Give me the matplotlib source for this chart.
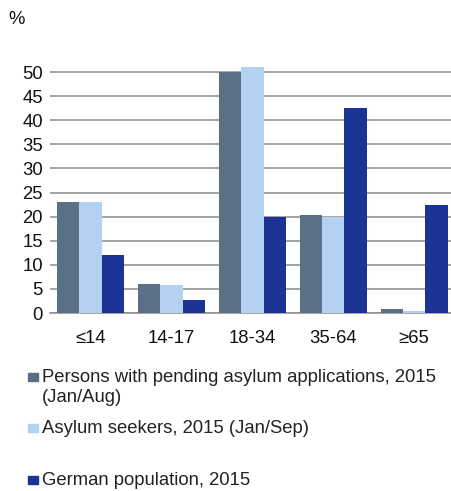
import matplotlib
matplotlib.use("Agg")
import matplotlib.pyplot as plt
import numpy as np
from matplotlib.patches import Rectangle

plt.rcParams["font.family"] = ["Liberation Sans", "DejaVu Sans"]

categories = ["≤14", "14-17", "18-34", "35-64", "≥65"]
pending = [23, 6, 50, 20.3, 0.8]
seekers = [23, 5.8, 51, 20, 0.4]
german = [12, 2.8, 20, 42.5, 22.5]
labels = [
    "Persons with pending asylum applications, 2015\n(Jan/Aug)",
    "Asylum seekers, 2015 (Jan/Sep)",
    "German population, 2015",
]
colors = ["#5A7087", "#B3D1F0", "#1A3395"]

W, H = 452, 491
fs = 13.3
fig = plt.figure(figsize=(W / 100, H / 100), dpi=100)
ax = fig.add_axes([50 / W, (H - 313) / H, 404.6 / W, 250.6 / H])

x = np.arange(len(categories))
bw = 0.277
for i, vals in enumerate([pending, seekers, german]):
    ax.bar(x + (i - 1) * bw, vals, bw, color=colors[i], zorder=3)

ax.set_xlim(-0.5, len(categories) - 0.5)
ax.set_ylim(0, 52)
ax.set_yticks(range(0, 51, 5))
ax.set_xticks(x)
ax.set_xticklabels(categories)
ax.tick_params(axis="both", length=0, labelsize=fs, colors="#111111")
ax.tick_params(axis="x", pad=12)
ax.tick_params(axis="y", pad=5)
ax.yaxis.grid(True, color="#8C8C8C", linewidth=1.1, zorder=0)
for s in ["top", "right", "left"]:
    ax.spines[s].set_visible(False)
ax.spines["bottom"].set_color("#8C8C8C")
ax.spines["bottom"].set_linewidth(1.1)

fig.text(17 / W, 1 - 20 / H, "%", ha="center", va="center", fontsize=fs, color="#111111")

# legend drawn by hand to keep the uneven spacing
leg_y = [377, 428, 480]
for i, lab in enumerate(labels):
    y = leg_y[i]
    fig.add_artist(Rectangle((28 / W, 1 - (y + 4) / H), 10 / W, 8 / H,
                             transform=fig.transFigure, color=colors[i]))
    fig.text(42 / W, 1 - (y - 8) / H, lab, ha="left", va="top",
             fontsize=fs, color="#222222", linespacing=1.24)

fig.savefig("out.png", dpi=100)
